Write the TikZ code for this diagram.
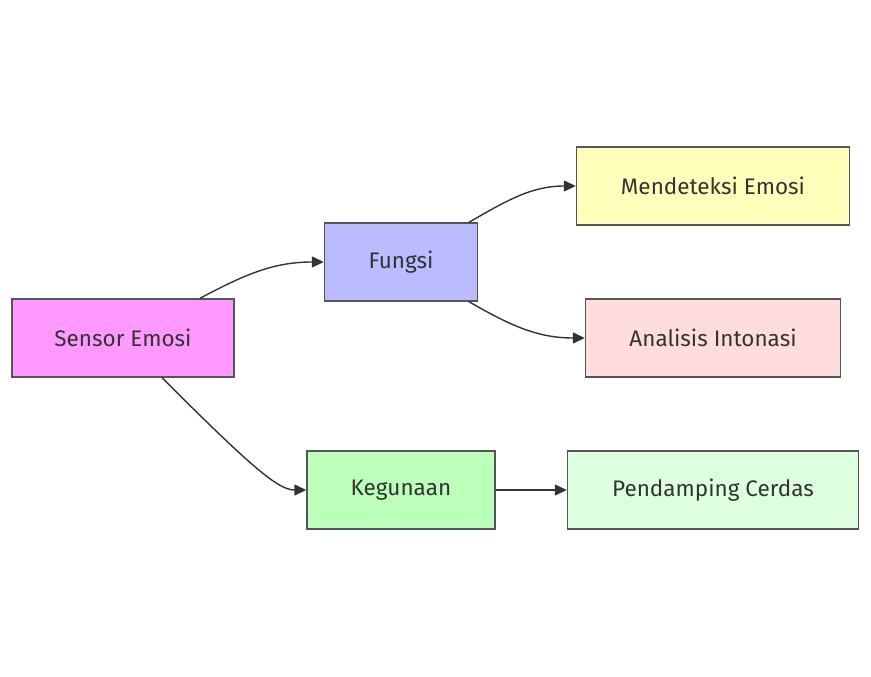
\documentclass[tikz,border=0pt]{standalone}
\usepackage{fontspec}
\setmainfont{Fira Sans}
\usepackage{tikz}
\usetikzlibrary{arrows.meta,positioning}
\definecolor{edgegray}{HTML}{333333}
\definecolor{boxline}{HTML}{555555}
\tikzstyle{box} = [draw=boxline, line width=1.4pt, text=edgegray, minimum height=78pt, inner sep=0pt, font=\fontsize{22.5}{26}\selectfont]

\begin{document}
\begin{tikzpicture}[x=1pt,y=-1pt,-{Triangle[length=12pt,width=11pt]},draw=edgegray,line width=1.4pt,node distance=278pt]
\useasboundingbox (0,0) rectangle (871,677);

\node[box, fill={rgb,255:red,255;green,153;blue,255}, minimum width=222pt] (sensor) at (123,338) {Sensor Emosi};
\node[box, fill={rgb,255:red,187;green,187;blue,255}, minimum width=153pt, right of = sensor, yshift = 76pt] (fungsi) {Fungsi};
\node[box, fill={rgb,255:red,187;green,255;blue,187}, minimum width=188pt, right of = sensor, yshift = -152pt] (kegunaan) {Kegunaan};
\node[box, fill={rgb,255:red,255;green,255;blue,187}, minimum width=273pt, right of = fungsi, xshift = 34pt, yshift = 76pt] (deteksi) {Mendeteksi Emosi};
\node[box, fill={rgb,255:red,255;green,221;blue,221}, minimum width=255pt, right of = fungsi, xshift = 34pt, yshift = -76pt] (intonasi) {Analisis Intonasi};
\node[box, fill={rgb,255:red,221;green,255;blue,221}, minimum width=291pt, right of = kegunaan, xshift = 34pt] (cerdas) {Pendamping Cerdas};

\draw ([xshift=77pt]sensor.north) to[out=28, in=180] (fungsi.west);
\draw ([xshift=68pt]fungsi.north) to[out=30, in=180] (deteksi.west);
\draw ([xshift=68pt]fungsi.south) to[out=-30, in=180] (intonasi.west);
\draw ([xshift=39pt]sensor.south) .. controls +(90,90) and +(-28,0) .. (kegunaan.west);
\draw (kegunaan) -- (cerdas);
\end{tikzpicture}
\end{document}
